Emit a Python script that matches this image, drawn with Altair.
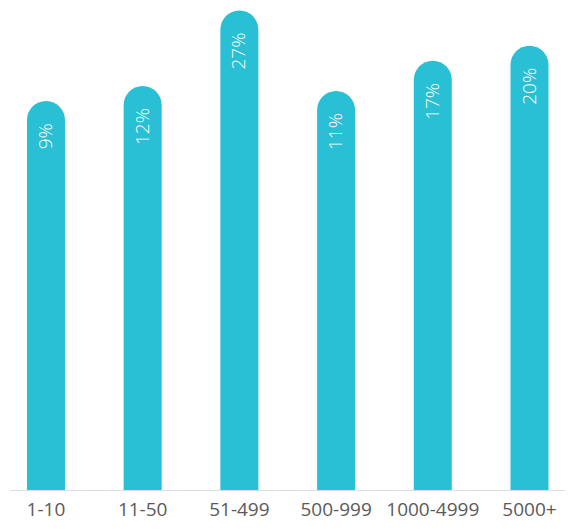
import altair as alt
import pandas as pd

categories = ["1-10", "11-50", "51-499", "500-999", "1000-4999", "5000+"]
values = [9, 12, 27, 11, 17, 20]
labels = ["9%", "12%", "27%", "11%", "17%", "20%"]

df = pd.DataFrame({"cat": categories, "val": values, "lab": labels})

BAR = "#29C0D5"
YMIN, YMAX = -68.3, 27.5

x = alt.X(
    "cat:N",
    sort=categories,
    title=None,
    scale=alt.Scale(paddingInner=0.607, paddingOuter=0.173, align=0.507),
    axis=alt.Axis(
        labelAngle=0,
        ticks=False,
        labelPadding=10,
        labelFont="Open Sans",
        labelFontSize=19,
        labelColor="#5a5a5a",
        domainColor="#dddddd",
        domainWidth=1,
        grid=False,
    ),
)
y = alt.Y(
    "val:Q",
    title=None,
    scale=alt.Scale(domain=[YMIN, YMAX], zero=False, nice=False),
    axis=None,
)

bars = alt.Chart(df).mark_bar(
    color=BAR,
    cornerRadiusTopLeft=19,
    cornerRadiusTopRight=19,
).encode(x=x, y=y, y2=alt.datum(YMIN))

text = alt.Chart(df).mark_text(
    angle=270,
    align="right",
    baseline="middle",
    dx=-22,
    color="white",
    font="Open Sans",
    fontSize=19,
    fontWeight=300,
).encode(x=x, y=y, text="lab:N")

chart = (
    alt.layer(bars, text)
    .properties(
        width=555,
        height=482,
        autosize=alt.AutoSizeParams(type="none"),
        padding={"left": 2, "top": 0, "right": 0, "bottom": 31},
    )
    .configure_view(stroke=None)
)

chart.save("out.html", embed_options={"renderer": "svg", "actions": False})
